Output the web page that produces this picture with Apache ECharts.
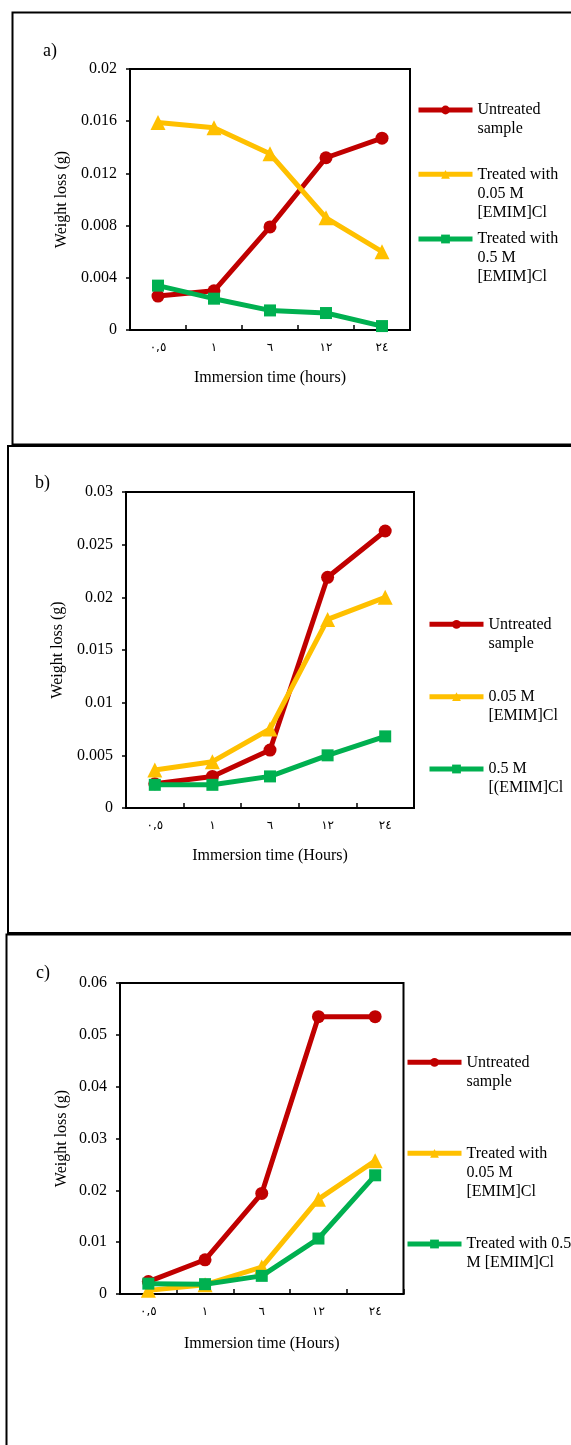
<!DOCTYPE html>
<html>
<head>
<meta charset="utf-8">
<script src="https://cdn.jsdelivr.net/npm/echarts@6/dist/echarts.min.js"></script>
<style>
html, body { margin: 0; padding: 0; background: #fff; }
#chart { width: 571px; height: 1445px; }
</style>
</head>
<body>
<div id="chart"></div>
<script>
// immersion time categories (Arabic-Indic numerals as in the figure)
const categories = ['٠,٥', '١', '٦', '١٢', '٢٤'];

// a)
const aUntreated = [0.0026, 0.003, 0.0079, 0.0132, 0.0147];
const aLow = [0.0159, 0.0155, 0.0135, 0.0086, 0.006];
const aHigh = [0.0034, 0.0024, 0.0015, 0.0013, 0.0003];
// b)
const bUntreated = [0.0023, 0.003, 0.0055, 0.0219, 0.0263];
const bLow = [0.0036, 0.0044, 0.0075, 0.0179, 0.02];
const bHigh = [0.0022, 0.0022, 0.003, 0.005, 0.0068];
// c)
const cUntreated = [0.0024, 0.0066, 0.0194, 0.0535, 0.0535];
const cLow = [0.0007, 0.0018, 0.0052, 0.0183, 0.0257];
const cHigh = [0.002, 0.0019, 0.0035, 0.0107, 0.0229];

const aLabels = ['Untreated\nsample', 'Treated with\n0.05 M\n[EMIM]Cl', 'Treated with\n0.5 M\n[EMIM]Cl'];
const bLabels = ['Untreated\nsample', '0.05 M\n[EMIM]Cl', '0.5 M\n[(EMIM]Cl'];
const cLabels = ['Untreated\nsample', 'Treated with\n0.05 M\n[EMIM]Cl', 'Treated with 0.5\nM [EMIM]Cl'];

const yMax = [0.02, 0.03, 0.06];
const yStep = [0.004, 0.005, 0.01];
const xNames = ['Immersion time (hours)', 'Immersion time (Hours)', 'Immersion time (Hours)'];

const serif = 'Liberation Serif';
const colors = ['#C00000', '#FFC000', '#00B050'];
const symbols = ['circle', 'triangle', 'rect'];
const symSizes = [13, 15, 12];

const panels = [
  { key: 'a', data: [aUntreated, aLow, aHigh], labels: aLabels,
    grid: { left: 130, top: 69, width: 280, height: 261 }, yGap: 60, xGap: 40,
    legLeft: 416, legY: [110, 174.3, 239], tag: [43, 42] },
  { key: 'b', data: [bUntreated, bLow, bHigh], labels: bLabels,
    grid: { left: 126, top: 492, width: 288, height: 316 }, yGap: 57, xGap: 40,
    legLeft: 427, legY: [624.3, 696.7, 769], tag: [35, 474] },
  { key: 'c', data: [cUntreated, cLow, cHigh], labels: cLabels,
    grid: { left: 120, top: 983, width: 283.5, height: 311 }, yGap: 50, xGap: 42,
    legLeft: 405, legY: [1062.3, 1153.3, 1244], tag: [36, 964] }
];

const LH = 19;
const labelMap = {};
const grid = [], xAxis = [], yAxis = [], series = [], legend = [], title = [];

panels.forEach(function (p, i) {
  grid.push(Object.assign({ show: true, borderColor: '#000', borderWidth: 2, backgroundColor: 'transparent' }, p.grid));
  xAxis.push({
    type: 'category', gridIndex: i, data: categories, boundaryGap: true,
    name: xNames[i], nameLocation: 'middle', nameGap: p.xGap,
    nameTextStyle: { fontFamily: serif, fontSize: 16, color: '#000' },
    axisLine: { lineStyle: { color: '#000', width: 2 } },
    axisTick: { show: true, inside: true, length: 5, lineStyle: { color: '#000', width: 1.5 } },
    axisLabel: { fontFamily: 'DejaVu Sans', fontSize: 12, color: '#000', margin: 12 },
    splitLine: { show: false }
  });
  yAxis.push({
    type: 'value', gridIndex: i, min: 0, max: yMax[i], interval: yStep[i],
    name: 'Weight loss (g)', nameLocation: 'middle', nameGap: p.yGap,
    nameTextStyle: { fontFamily: serif, fontSize: 16, color: '#000' },
    axisLine: { show: true, lineStyle: { color: '#000', width: 2 } },
    axisTick: { show: true, inside: false, length: 4, lineStyle: { color: '#000', width: 1.5 } },
    axisLabel: { fontFamily: serif, fontSize: 16, color: '#000', margin: 13 },
    splitLine: { show: false }
  });
  p.data.forEach(function (vals, k) {
    const name = p.key + k;
    labelMap[name] = p.labels[k];
    series.push({
      name: name, type: 'line', xAxisIndex: i, yAxisIndex: i, data: vals,
      symbol: symbols[k], symbolSize: symSizes[k], z: 2 + k,
      lineStyle: { color: colors[k], width: 5 },
      itemStyle: { color: colors[k] },
      emphasis: { disabled: true }
    });
    const n = p.labels[k].split('\n').length;
    legend.push({
      data: [name], orient: 'vertical', left: p.legLeft,
      top: p.legY[k] - (2 * n - 1) * LH / 2,
      padding: 0, itemGap: 0, itemWidth: 54, itemHeight: 11,
      selectedMode: false,
      lineStyle: { width: 5 },
      formatter: function (nm) {
        const t = labelMap[nm];
        const lines = t.split('\n').length;
        return '\n'.repeat(lines - 1) + t;
      },
      textStyle: { fontFamily: serif, fontSize: 16, lineHeight: LH, color: '#000' }
    });
  });
  title.push({
    text: p.key + ')', left: p.tag[0], top: p.tag[1], padding: 0,
    textStyle: { fontFamily: serif, fontSize: 18, fontWeight: 'normal', color: '#000' }
  });
});

const chart = echarts.init(document.getElementById('chart'), null, { renderer: 'canvas' });
chart.setOption({
  animation: false,
  backgroundColor: '#fff',
  title: title,
  grid: grid,
  xAxis: xAxis,
  yAxis: yAxis,
  legend: legend,
  series: series,
  graphic: [
    { type: 'rect', shape: { x: 12.5, y: 12.5, width: 620, height: 432 }, style: { fill: 'none', stroke: '#000', lineWidth: 2 }, silent: true },
    { type: 'rect', shape: { x: 8, y: 446, width: 620, height: 487 }, style: { fill: 'none', stroke: '#000', lineWidth: 2 }, silent: true },
    { type: 'rect', shape: { x: 6.5, y: 934.5, width: 620, height: 560 }, style: { fill: 'none', stroke: '#000', lineWidth: 2 }, silent: true }
  ]
});
</script>
</body>
</html>
